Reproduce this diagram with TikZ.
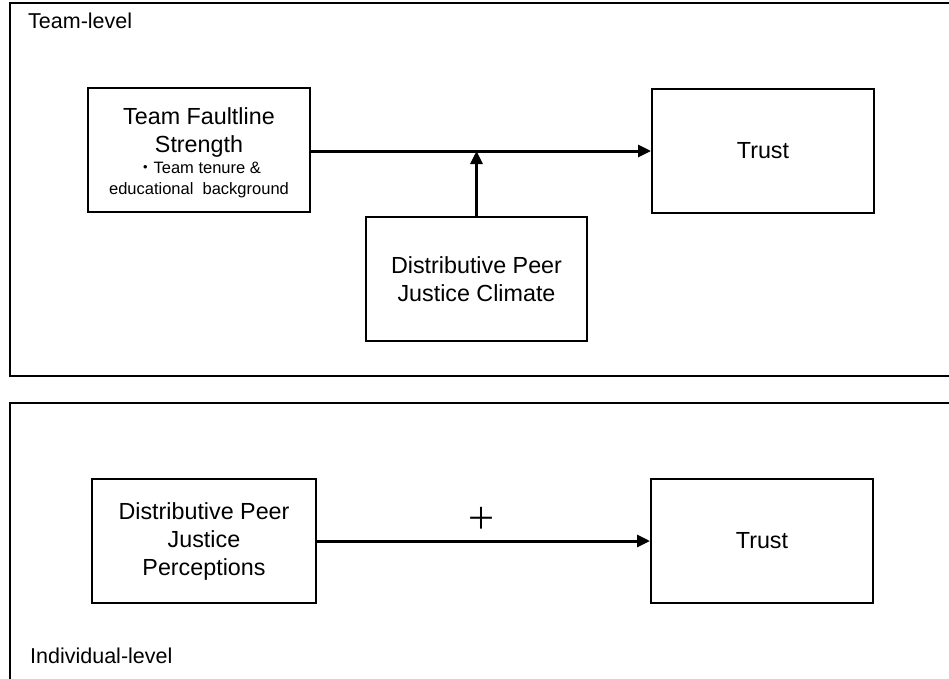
\documentclass[tikz,border=0pt]{standalone}
\usepackage{fontspec}
\setmainfont{Liberation Sans}
\newfontfamily\cjkfont{Noto Sans CJK JP}
\usetikzlibrary{arrows.meta}
\newcommand{\mainsize}{\fontsize{23.3}{28}\selectfont}
\newcommand{\notesize}{\fontsize{16.5}{21}\selectfont}
\begin{document}
\begin{tikzpicture}[x=1pt,y=-1pt,
  levelframe/.style={draw=black,line width=2pt},
  varbox/.style={draw=black,line width=2pt,minimum width=222pt,minimum height=124pt,
    align=center,inner sep=0pt,font=\mainsize},
  levellabel/.style={anchor=west,inner sep=0pt,font=\fontsize{21.5}{26}\selectfont},
  linkarrow/.style={line width=3pt,-{Triangle[length=13pt,width=12pt]}}]
  \useasboundingbox (0,0) rectangle (949,678);
  \clip (0,0) rectangle (949,678);
  % frames for the two levels
  \draw[levelframe] (10,3) rectangle (970,376);
  \draw[levelframe] (10,403) rectangle (970,700);
  \node[levellabel] (teamlbl) at (28,21) {Team-level};
  \node[levellabel] (indlbl) at (30,656) {Individual-level};
  % team level
  \node[varbox] (fault) at (199,150) {\parbox{220pt}{\centering\vspace*{6pt}
    \mainsize Team Faultline\\Strength\par
    \notesize{\cjkfont ・}Team tenure \&\\educational\ \ background\par}};
  \node[varbox] (trustT) at (763,151) {Trust};
  \node[varbox,minimum width=221pt] (climate) at (476.5,279) {Distributive Peer\\Justice Climate};
  \draw[linkarrow] (fault.east |- trustT.west) -- (trustT.west);
  \draw[linkarrow] (climate.north) -- (climate.north |- trustT.west);
  % individual level
  \node[varbox,minimum width=224pt] (percep) at (204,541) {Distributive Peer\\Justice\\Perceptions};
  \node[varbox] (trustI) at (762,541) {Trust};
  \draw[linkarrow] (percep.east) -- (trustI.west);
  \node[inner sep=0pt,font=\cjkfont\fontsize{30}{30}\selectfont] (plus) at (481,518) {＋};
\end{tikzpicture}
\end{document}
